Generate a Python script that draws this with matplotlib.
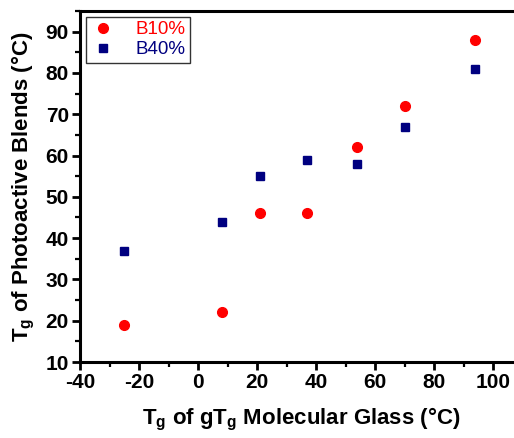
import matplotlib
matplotlib.use("Agg")
import matplotlib.pyplot as plt
from matplotlib.ticker import MultipleLocator

plt.rcParams['font.family'] = ['Liberation Sans', 'DejaVu Sans']
plt.rcParams['mathtext.default'] = 'regular'
plt.rcParams['axes.unicode_minus'] = False

x_b10 = [-25, 8, 21, 37, 54, 70, 94]
y_b10 = [19, 22, 46, 46, 62, 72, 88]
x_b40 = [-25, 8, 21, 37, 54, 70, 94]
y_b40 = [37, 44, 55, 59, 58, 67, 81]
labels = ['B10%', 'B40%']

W, H = 514, 438
fig = plt.figure(figsize=(W / 100, H / 100), dpi=100)
left, bottom, top = 80, 362, 11
ppu = (493 - 80) / 140.0
right_px = 80 + 150 * ppu
ax = fig.add_axes([left / W, (H - bottom) / H, (right_px - left) / W, (bottom - top) / H])

ax.plot(x_b10, y_b10, 'o', color='#ff0000', markersize=7, label=labels[0], linestyle='none')
ax.plot(x_b40, y_b40, 's', color='#000080', markersize=6, label=labels[1], linestyle='none')

ax.set_xlim(-40, 110)
ax.set_ylim(10, 95)
ax.xaxis.set_major_locator(MultipleLocator(20))
ax.xaxis.set_minor_locator(MultipleLocator(10))
ax.yaxis.set_major_locator(MultipleLocator(10))
ax.yaxis.set_minor_locator(MultipleLocator(5))

for s in ax.spines.values():
    s.set_linewidth(2.2)
ax.spines['right'].set_visible(False)
ax.tick_params(which='major', direction='out', length=6, width=2, labelsize=15, pad=2)
ax.tick_params(which='minor', direction='out', length=3.5, width=1.6)
for lab in ax.get_xticklabels() + ax.get_yticklabels():
    lab.set_fontweight('bold')

ax.set_xlabel('T$_g$ of gT$_g$ Molecular Glass (°C)', fontsize=16, fontweight='bold', labelpad=10)
ax.set_ylabel('T$_g$ of Photoactive Blends (°C)', fontsize=16, fontweight='bold', labelpad=6)

leg = ax.legend(loc='upper left', fontsize=13.5, frameon=True, fancybox=False,
                edgecolor='black', borderaxespad=0.3, handletextpad=1.0,
                labelspacing=0.15, borderpad=0.25, handlelength=1.4)
leg.get_frame().set_linewidth(1.0)
leg.get_texts()[0].set_color('#ff0000')
leg.get_texts()[1].set_color('#000080')

fig.savefig('out.png', dpi=100)
